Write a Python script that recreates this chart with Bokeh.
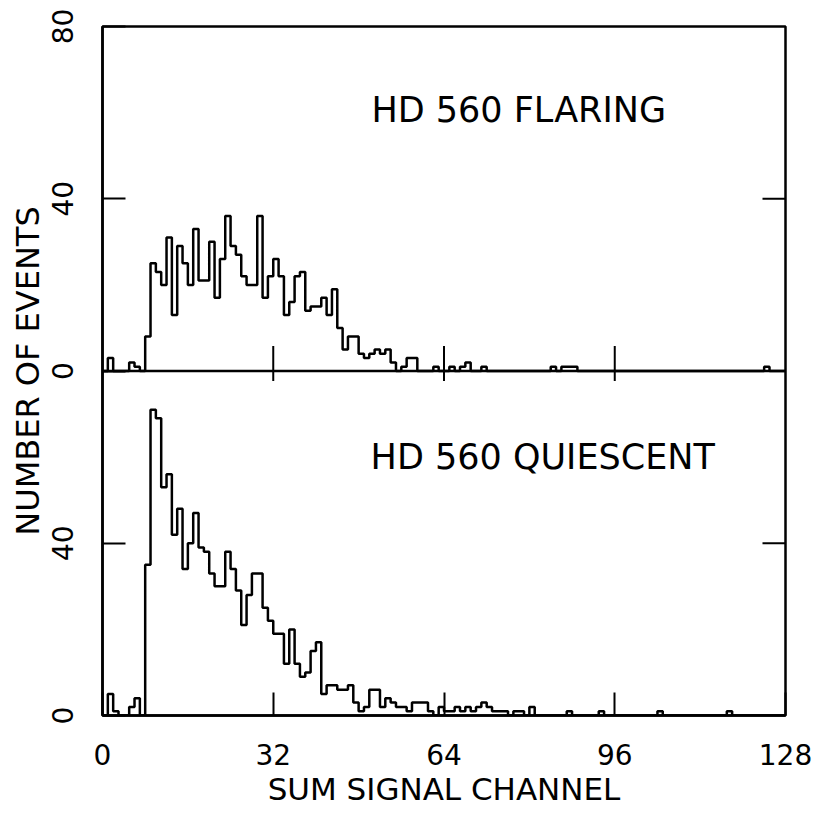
from bokeh.plotting import figure
from bokeh.models import Range1d, LinearAxis, FixedTicker, Label, Span
from bokeh.embed import file_html
from bokeh.resources import INLINE

# ---- data -------------------------------------------------------------
channel_edges = list(range(129))          # channel bins 0..128

flaring = [0] * 128
flaring_vals = {
    1: 3, 5: 2, 6: 1, 8: 8, 9: 25, 10: 23, 11: 20, 12: 31, 13: 13, 14: 29,
    15: 25, 16: 20, 17: 33, 18: 21, 19: 21, 20: 30, 21: 17, 22: 26, 23: 36,
    24: 29, 25: 27, 26: 22, 27: 20, 28: 20, 29: 36, 30: 17, 31: 22, 32: 26,
    33: 22, 34: 13, 35: 16, 36: 22, 37: 23, 38: 14, 39: 15, 40: 15, 41: 17,
    42: 13, 43: 19, 44: 10, 45: 5, 46: 8, 47: 8, 48: 4, 49: 3, 50: 4, 51: 5,
    52: 4, 53: 5, 54: 2, 56: 1, 57: 3, 58: 3, 62: 1, 65: 1, 67: 1, 68: 2,
    71: 1, 84: 1, 86: 1, 87: 1, 88: 1, 124: 1,
}
for k, v in flaring_vals.items():
    flaring[k] = v

quiescent = [0] * 128
quiescent_vals = {
    1: 5, 2: 1, 5: 2, 6: 4, 8: 35, 9: 71, 10: 69, 11: 53, 12: 56, 13: 42,
    14: 48, 15: 34, 16: 40, 17: 47, 18: 39, 19: 38, 20: 33, 21: 30, 22: 30,
    23: 38, 24: 34, 25: 29, 26: 21, 27: 28, 28: 33, 29: 33, 30: 25, 31: 22,
    32: 19, 33: 19, 34: 12, 35: 20, 36: 12, 37: 9, 38: 10, 39: 15, 40: 17,
    41: 5, 42: 7, 43: 7, 44: 6, 45: 6, 46: 7, 47: 3, 48: 1, 49: 2, 50: 6,
    51: 6, 52: 2, 53: 4, 54: 3, 55: 2, 56: 2, 57: 1, 58: 3, 59: 3, 60: 3,
    61: 1, 63: 2, 64: 1, 65: 1, 66: 2, 67: 1, 68: 2, 69: 1, 70: 2, 71: 3,
    72: 2, 73: 1, 74: 1, 75: 1, 77: 1, 78: 1, 80: 2, 87: 1, 93: 1, 104: 1,
    117: 1,
}
for k, v in quiescent_vals.items():
    quiescent[k] = v

x_ticks = [0, 32, 64, 96, 128]
x_tick_labels = ["0", "32", "64", "96", "128"]
y_ticks_top = [0, 40, 80]          # flaring panel
y_ticks_bottom = [0, 40]           # quiescent panel
panel_max = 80

title_top = "HD 560 FLARING"
title_bottom = "HD 560 QUIESCENT"
x_title = "SUM SIGNAL CHANNEL"
y_title = "NUMBER OF EVENTS"

FONT = "DejaVu Sans"
FRAME_W, FRAME_H = 683, 689

# ---- figure -----------------------------------------------------------
p = figure(width=826, height=815,
           x_range=Range1d(0, 128), y_range=Range1d(0, 2 * panel_max),
           output_backend="svg", toolbar_location=None,
           x_axis_type=None, y_axis_type=None,
           min_border_left=102, min_border_right=41,
           min_border_top=26, min_border_bottom=100)
p.extra_y_ranges = {"top": Range1d(-panel_max, panel_max)}
p.grid.visible = False
p.outline_line_color = "black"
p.outline_line_width = 2.5
p.background_fill_color = "white"
p.border_fill_color = "white"

# histograms
xs = channel_edges
p.step(xs, quiescent + [quiescent[-1]], mode="after",
       line_color="black", line_width=2.5)
p.step(xs, flaring + [flaring[-1]], mode="after",
       line_color="black", line_width=2.5, y_range_name="top")

# panel divider
p.add_layout(Span(location=panel_max, dimension="width",
                  line_color="black", line_width=2.5))

# x axis
xaxis = LinearAxis(ticker=FixedTicker(ticks=x_ticks),
                   major_label_overrides=dict(zip(x_ticks, x_tick_labels)))
xaxis.major_tick_in = 23
xaxis.major_tick_out = 0
xaxis.minor_tick_line_color = None
xaxis.axis_line_color = "black"
xaxis.axis_line_width = 2.5
xaxis.major_tick_line_width = 2
xaxis.major_label_standoff = 28
xaxis.major_label_text_font = FONT
xaxis.major_label_text_font_size = "28px"
xaxis.major_label_text_color = "black"
xaxis.axis_label = x_title
xaxis.axis_label_standoff = 3
xaxis.axis_label_text_font = FONT
xaxis.axis_label_text_font_size = "31px"
xaxis.axis_label_text_font_style = "normal"
xaxis.axis_label_text_color = "black"
p.add_layout(xaxis, "below")

px_x = FRAME_W / 128
px_y = FRAME_H / (2 * panel_max)

# ticks on the panel divider
inner = [t for t in x_ticks if 0 < t < 128]
p.segment(x0=inner, x1=inner,
          y0=[panel_max - 10 / px_y] * len(inner),
          y1=[panel_max + 25 / px_y] * len(inner),
          line_color="black", line_width=2)

# y axis (left)
left_ticks = list(y_ticks_bottom) + [t + panel_max for t in y_ticks_top]
left_labels = {t: str(t) for t in y_ticks_bottom}
left_labels.update({t + panel_max: str(t) for t in y_ticks_top})
yaxis = LinearAxis(ticker=FixedTicker(ticks=left_ticks),
                   major_label_overrides=left_labels)
yaxis.major_tick_in = 23
yaxis.major_tick_out = 0
yaxis.minor_tick_line_color = None
yaxis.axis_line_color = "black"
yaxis.axis_line_width = 2.5
yaxis.major_tick_line_width = 2
yaxis.major_label_orientation = "vertical"
yaxis.major_label_standoff = 30
yaxis.major_label_text_font = FONT
yaxis.major_label_text_font_size = "28px"
yaxis.major_label_text_color = "black"
yaxis.axis_label = y_title
yaxis.axis_label_standoff = 2
yaxis.axis_label_text_font = FONT
yaxis.axis_label_text_font_size = "32px"
yaxis.axis_label_text_font_style = "normal"
yaxis.axis_label_text_color = "black"
p.add_layout(yaxis, "left")

# right-hand inward ticks
right_ticks = [t for t in left_ticks if 0 < t < 2 * panel_max and t != panel_max]
p.segment(x0=[128 - 23 / px_x] * len(right_ticks), x1=[128] * len(right_ticks),
          y0=right_ticks, y1=right_ticks, line_color="black", line_width=2)

# panel annotations
p.add_layout(Label(x=78.0, y=60.7, y_range_name="top", text=title_top,
                   text_align="center", text_baseline="middle",
                   text_font=FONT, text_font_size="35px", text_color="black"))
p.add_layout(Label(x=82.5, y=60.0, text=title_bottom,
                   text_align="center", text_baseline="middle",
                   text_font=FONT, text_font_size="35px", text_color="black"))

open("out.html", "w").write(file_html(p, INLINE))
